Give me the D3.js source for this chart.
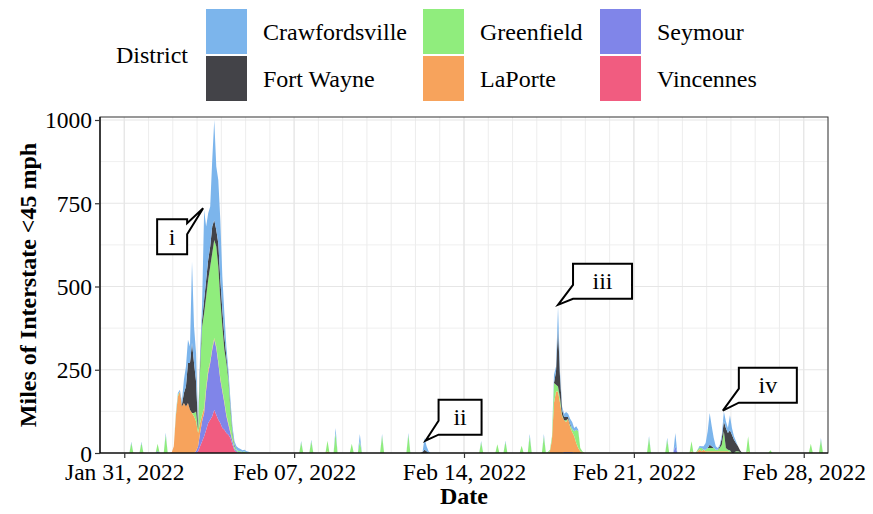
<!DOCTYPE html>
<html>
<head>
<meta charset="utf-8">
<script src="https://cdn.jsdelivr.net/npm/d3@7"></script>
<style>
  body { margin: 0; background: #fff; }
  svg { display: block; font-family: "Liberation Serif", "Times New Roman", serif; }
</style>
</head>
<body>
<svg id="chart" width="873" height="514"></svg>
<script>
// districts, legend order (ggplot stacks the first level on top)
var districts = ["Crawfordsville", "Fort Wayne", "Greenfield", "LaPorte", "Seymour", "Vincennes"];
var colors = ["#7cb5ec", "#434348", "#90ed7d", "#f7a35c", "#8085e9", "#f15c80"];
var stackOrder = ["Vincennes", "Seymour", "LaPorte", "Greenfield", "Fort Wayne", "Crawfordsville"];

// event windows: first hour after Jan 31 00:00, then one value every 2 hours
var windowStarts = [47, 295, 419, 567];

var crawfordsville = [
  [0,0,5,5,5,10,40,60,70,50,245,110,85,10,30,50,270,160,140,120,200,300,190,190,180,100,70,30,20,20,15,10,10,9,7,5,5,5,2,0],
  [0,35,15,5],
  [0,0,0,25,15,65,15,10,10,15,10,15,20,10,10,5,0,0,0],
  [0,5,5,10,20,50,95,60,30,10,5,5,10,30,20,15,45,20,10,5,0,0,0]
];
var fortWayne = [
  [0,0,0,0,0,5,30,60,120,140,210,150,90,10,20,20,40,50,60,60,80,60,50,70,60,50,40,20,10,10,5,5,0,0,0,0,0,0,0,0],
  [3,10,5,0],
  [0,0,0,0,40,175,60,15,10,10,5,5,0,0,0,0,0,0,0],
  [0,0,0,0,0,0,10,5,0,0,0,5,20,30,60,50,60,55,40,25,15,5,0]
];
var greenfield = [
  [0,0,5,5,0,0,0,0,0,0,0,10,30,10,160,265,285,270,270,285,285,295,300,285,235,190,155,155,130,65,22,7,4,3,3,3,5,0,2,0],
  [0,0,0,0],
  [3,5,10,60,20,15,15,5,0,5,0,5,10,15,40,50,10,3,0],
  [5,5,10,0,5,10,10,10,10,5,5,10,20,60,10,5,5,0,0,5,5,3,0]
];
var laporte = [
  [2,20,110,170,185,140,150,140,150,130,120,110,90,40,30,20,15,10,10,5,5,5,5,5,5,5,5,5,5,5,3,0,0,0,0,0,0,0,0,0],
  [0,0,0,0],
  [0,5,40,150,185,185,150,110,95,90,100,75,60,50,30,15,5,2,0],
  [5,8,5,10,5,5,5,5,5,5,5,5,5,5,5,5,3,0,0,0,0,0,0]
];
var seymour = [
  [0,0,0,0,0,0,0,0,0,0,0,0,5,15,40,60,70,120,150,170,200,210,200,170,130,110,80,50,30,15,10,5,3,3,2,0,0,0,0,0],
  [0,0,0,0],
  [0,0,0,0,0,0,0,0,3,3,3,3,3,0,0,0,0,0,0],
  [0,0,0,0,0,0,0,0,0,0,0,0,0,0,0,0,0,0,0,0,0,0,0]
];
var vincennes = [
  [0,0,0,0,0,0,0,0,0,0,0,0,0,5,20,35,50,70,90,100,110,130,115,100,90,75,70,60,55,45,25,8,3,0,0,0,0,0,0,0],
  [0,0,0,0],
  [0,0,0,0,0,0,0,0,0,0,0,0,0,0,0,0,0,0,0],
  [0,3,0,0,0,0,0,0,0,0,0,0,0,0,0,0,0,0,0,0,0,0,0]
];

// short isolated spikes: [hour after Jan 31 00:00, district index, miles]
var spikes = [
  [7,2,30],[7,0,4],[17,2,30],[17,0,4],[33,2,22],[33,4,6],[41,2,55],[41,0,6],
  [175,2,32],[175,0,4],[185,2,35],[185,0,5],[201,2,32],[201,3,5],[209,2,60],[209,0,15],
  [225,2,28],[233,2,35],[233,0,22],[255,2,52],[255,0,5],[281,2,55],[281,0,5],
  [353,2,32],[353,0,4],[369,2,26],[377,2,33],[377,0,4],[393,2,22],[401,2,50],[401,0,7],
  [415,2,50],[415,0,7],[519,2,46],[519,0,5],[537,2,40],[537,0,6],[545,4,20],[545,0,40],
  [561,2,30],[561,3,5],[617,2,45],[617,3,5],[639,2,8],[679,2,28],[689,2,40],[689,0,5]
];

var yTicks = [0, 250, 500, 750, 1000];
var xTickDays = [0, 7, 14, 21, 28];

// callouts: label, hour and miles of the pointed peak, box offset from the tip
var callouts = [
  {label: "i",   hour: 78,  value: 735, dx: -46, dy: 11,  w: 30, side: "right"},
  {label: "ii",  hour: 298, value: 37,  dx: 13,  dy: -41, w: 43, side: "left"},
  {label: "iii", hour: 429, value: 445, dx: 15,  dy: -41, w: 59, side: "left"},
  {label: "iv",  hour: 592, value: 127, dx: 16,  dy: -43, w: 58, side: "left"}
];

var base = new Date(2022, 0, 31);
function toDate(h) { return new Date(base.getTime() + h * 36e5); }

var series = {
  "Crawfordsville": crawfordsville, "Fort Wayne": fortWayne, "Greenfield": greenfield,
  "LaPorte": laporte, "Seymour": seymour, "Vincennes": vincennes
};

var hourGrid = d3.range(-23, 696, 2);
var rows = hourGrid.map(function(h) {
  var r = {hour: h};
  districts.forEach(function(d) { r[d] = 0; });
  return r;
});
function rowIndex(h) { return (h + 23) / 2; }
districts.forEach(function(d) {
  series[d].forEach(function(vals, w) {
    vals.forEach(function(v, i) { rows[rowIndex(windowStarts[w] + 2 * i)][d] += v; });
  });
});
spikes.forEach(function(s) { rows[rowIndex(s[0])][districts[s[1]]] += s[2]; });

var svg = d3.select("#chart");
var pLeft = 100, pRight = 828, pTop = 117, pBottom = 453;

var x = d3.scaleTime()
  .domain([new Date(2022, 0, 30), new Date(2022, 2, 1)])
  .range([pLeft, pRight]);
var y = d3.scaleLinear().domain([0, 1009]).range([pBottom, pTop]);

// grid
var grid = svg.append("g");
grid.selectAll(".vminor").data(d3.timeDay.range(new Date(2022, 0, 30), new Date(2022, 2, 2)))
  .enter().append("line")
  .attr("x1", d => x(d)).attr("x2", d => x(d)).attr("y1", pTop).attr("y2", pBottom)
  .attr("stroke", "#ebebeb").attr("stroke-width", 0.9);
grid.selectAll(".hminor").data(d3.range(125, 1009, 250))
  .enter().append("line")
  .attr("x1", pLeft).attr("x2", pRight).attr("y1", d => y(d)).attr("y2", d => y(d))
  .attr("stroke", "#ededed").attr("stroke-width", 0.9);
grid.selectAll(".hmajor").data(yTicks)
  .enter().append("line")
  .attr("x1", pLeft).attr("x2", pRight).attr("y1", d => y(d)).attr("y2", d => y(d))
  .attr("stroke", "#e6e6e6").attr("stroke-width", 1.2);
grid.selectAll(".vmajor").data(xTickDays)
  .enter().append("line")
  .attr("x1", d => x(d3.timeDay.offset(base, d))).attr("x2", d => x(d3.timeDay.offset(base, d)))
  .attr("y1", pTop).attr("y2", pBottom)
  .attr("stroke", "#e6e6e6").attr("stroke-width", 1.2);

// stacked areas
svg.append("clipPath").attr("id", "panel")
  .append("rect").attr("x", pLeft).attr("y", pTop).attr("width", pRight - pLeft).attr("height", pBottom - pTop);

var stacked = d3.stack().keys(stackOrder)(rows);
var area = d3.area()
  .x(d => x(toDate(d.data.hour)))
  .y0(d => y(d[0]))
  .y1(d => y(d[1]));

svg.append("g").attr("clip-path", "url(#panel)")
  .selectAll("path").data(stacked)
  .enter().append("path")
  .attr("d", area)
  .attr("fill", d => colors[districts.indexOf(d.key)]);

// panel border and axis lines
svg.append("rect").attr("x", pLeft).attr("y", pTop).attr("width", pRight - pLeft).attr("height", pBottom - pTop)
  .attr("fill", "none").attr("stroke", "#333").attr("stroke-width", 1);
svg.append("line").attr("x1", pLeft).attr("x2", pLeft).attr("y1", pTop).attr("y2", pBottom)
  .attr("stroke", "#000").attr("stroke-width", 1.2);
svg.append("line").attr("x1", pLeft).attr("x2", pRight).attr("y1", pBottom).attr("y2", pBottom)
  .attr("stroke", "#000").attr("stroke-width", 1.2);

// axes
var yAxis = svg.append("g").attr("transform", "translate(" + pLeft + ",0)")
  .call(d3.axisLeft(y).tickValues(yTicks).tickFormat(d3.format("d")).tickSize(5).tickPadding(3));
var xAxis = svg.append("g").attr("transform", "translate(0," + pBottom + ")")
  .call(d3.axisBottom(x).tickValues(xTickDays.map(d => d3.timeDay.offset(base, d)))
    .tickFormat(d3.timeFormat("%b %d, %Y")).tickSize(5).tickPadding(5));
[yAxis, xAxis].forEach(function(a) {
  a.select(".domain").remove();
  a.selectAll(".tick line").attr("stroke", "#333").attr("stroke-width", 1.2);
  a.selectAll("text").attr("fill", "#000").style("font-size", "23.5px")
    .style("font-family", "'Liberation Serif', 'Times New Roman', serif");
});
yAxis.selectAll("text").attr("dy", "0.34em");

svg.append("text").attr("x", (pLeft + pRight) / 2).attr("y", 504)
  .attr("text-anchor", "middle").style("font-size", "24px").style("font-weight", "bold")
  .text("Date");
svg.append("text").attr("transform", "translate(36," + (pTop + pBottom) / 2 + ") rotate(-90)")
  .attr("text-anchor", "middle").style("font-size", "24px").style("font-weight", "bold")
  .text("Miles of Interstate <45 mph");

// legend
var legend = svg.append("g");
legend.append("text").attr("x", 116).attr("y", 63).style("font-size", "24px").text("District");
var colX = [206, 423, 600], rowY = [9, 56], keyW = 41, keyH = 45;
districts.forEach(function(d, i) {
  var cx = colX[Math.floor(i / 2)], ry = rowY[i % 2];
  legend.append("rect").attr("x", cx).attr("y", ry).attr("width", keyW).attr("height", keyH)
    .attr("fill", colors[i]);
  legend.append("text").attr("x", cx + 57).attr("y", ry + keyH / 2 + 8)
    .style("font-size", "24px").text(d);
});

// callouts
var boxH = 35;
callouts.forEach(function(c) {
  var tx = x(toDate(c.hour)), ty = y(c.value);
  var bx = tx + c.dx, by = ty + c.dy;
  var p;
  if (c.side === "right") {
    var ex = bx + c.w;
    p = "M" + bx + "," + by + "H" + ex + "V" + (by + 4) + "L" + tx + "," + ty +
        "L" + ex + "," + (by + 15) + "V" + (by + boxH) + "H" + bx + "Z";
  } else {
    p = "M" + bx + "," + by + "H" + (bx + c.w) + "V" + (by + boxH) + "H" + bx +
        "L" + tx + "," + ty + "L" + bx + "," + (by + boxH - 14) + "Z";
  }
  svg.append("path").attr("d", p).attr("fill", "#fff").attr("stroke", "#000")
    .attr("stroke-width", 2).attr("stroke-linejoin", "miter");
  svg.append("text").attr("x", bx + c.w / 2).attr("y", by + boxH / 2 + 8)
    .attr("text-anchor", "middle").style("font-size", "24px").text(c.label);
});
</script>
</body>
</html>
